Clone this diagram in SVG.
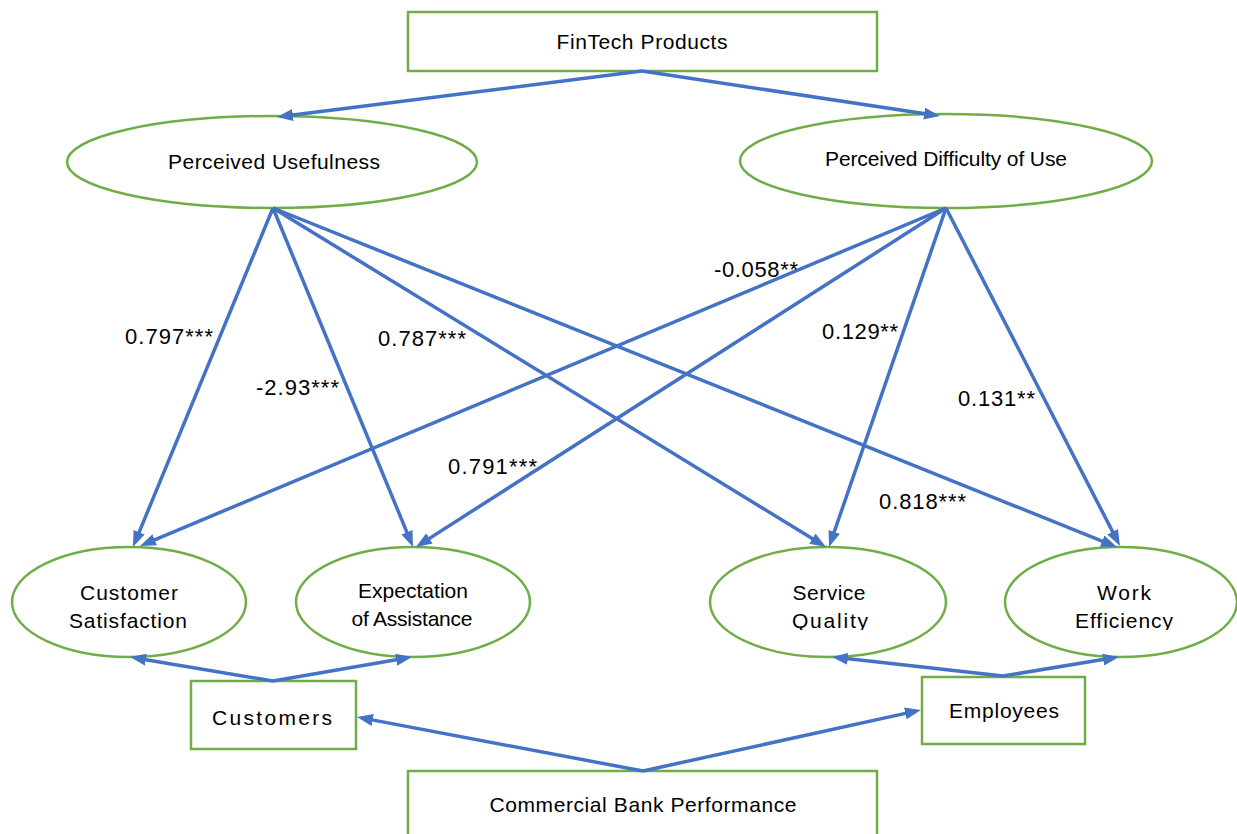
<svg xmlns="http://www.w3.org/2000/svg" width="1237" height="834" viewBox="0 0 1237 834">
<style>
.box{fill:#fff;stroke:#70AD47;stroke-width:2.5}
.ell{fill:#fff;stroke:#70AD47;stroke-width:2.5}
.t{font-family:"Liberation Sans",Arial,sans-serif;font-size:21px;fill:#000;text-anchor:middle}
.lbl{font-family:"Liberation Sans",Arial,sans-serif;font-size:22px;fill:#000}
.c{stroke:#4472C4;stroke-width:3.5;fill:none;marker-end:url(#ah)}
</style>
<defs>
<marker id="ah" markerUnits="userSpaceOnUse" markerWidth="16" markerHeight="12" refX="6" refY="6" orient="auto">
<path d="M0,0 L16,6 L0,12 z" fill="#4472C4"/>
</marker>
<clipPath id="clipL"><rect x="0" y="0" width="1237" height="630"/></clipPath>
</defs>
<rect width="1237" height="834" fill="#fff"/>

<g id="fintech">
<rect class="box" x="408" y="12" width="469" height="59"/>
<text class="t" x="642" y="49" textLength="171" lengthAdjust="spacing">FinTech Products</text>
</g>
<g id="pu">
<ellipse class="ell" cx="272" cy="162" rx="205" ry="46"/>
<text class="t" x="274" y="169" textLength="212" lengthAdjust="spacing">Perceived Usefulness</text>
</g>
<g id="pdu">
<ellipse class="ell" cx="946" cy="161" rx="206" ry="47"/>
<text class="t" x="946" y="166" textLength="242" lengthAdjust="spacing">Perceived Difficulty of Use</text>
</g>
<g id="cs">
<ellipse class="ell" cx="129" cy="602" rx="117" ry="55"/>
<text class="t" x="129" y="600" textLength="98" lengthAdjust="spacing">Customer</text>
<text class="t" x="128" y="628" textLength="118" lengthAdjust="spacing">Satisfaction</text>
</g>
<g id="ea">
<ellipse class="ell" cx="413" cy="602" rx="117" ry="55"/>
<text class="t" x="413" y="598" textLength="110" lengthAdjust="spacing">Expectation</text>
<text class="t" x="412" y="626" textLength="121" lengthAdjust="spacing">of Assistance</text>
</g>
<g id="sq">
<ellipse class="ell" cx="828" cy="602" rx="118" ry="55"/>
<text class="t" x="829" y="600" textLength="73" lengthAdjust="spacing">Service</text>
<text class="t" x="830" y="628" textLength="76" lengthAdjust="spacing" clip-path="url(#clipL)">Quality</text>
</g>
<g id="we">
<ellipse class="ell" cx="1121" cy="602" rx="116" ry="55"/>
<text class="t" x="1124" y="600" textLength="54" lengthAdjust="spacing">Work</text>
<text class="t" x="1124" y="628" textLength="98" lengthAdjust="spacing" clip-path="url(#clipL)">Efficiency</text>
</g>
<g id="customers">
<rect class="box" x="191" y="681" width="165" height="68"/>
<text class="t" x="272" y="725" font-size="24" textLength="120" lengthAdjust="spacing">Customers</text>
</g>
<g id="employees">
<rect class="box" x="922" y="677" width="163" height="67"/>
<text class="t" x="1004" y="718" textLength="110" lengthAdjust="spacing">Employees</text>
</g>
<g id="cbp">
<rect class="box" x="408" y="771" width="469" height="70"/>
<text class="t" x="643" y="812" textLength="307" lengthAdjust="spacing">Commercial Bank Performance</text>
</g>

<g id="connectors">
<line class="c" x1="642" y1="71" x2="286.9" y2="115.8"/>
<line class="c" x1="642" y1="71" x2="930.1" y2="114.5"/>
<line class="c" x1="273" y1="208" x2="136.8" y2="537.8"/>
<line class="c" x1="273" y1="208" x2="409.2" y2="537.8"/>
<line class="c" x1="273" y1="208" x2="817.5" y2="541.8"/>
<line class="c" x1="273" y1="208" x2="1107.7" y2="543.3"/>
<line class="c" x1="946" y1="208" x2="149.2" y2="542.1"/>
<line class="c" x1="946" y1="208" x2="424.4" y2="541.6"/>
<line class="c" x1="946" y1="208" x2="832.3" y2="537.5"/>
<line class="c" x1="946" y1="208" x2="1115.4" y2="537.1"/>
<line class="c" x1="273" y1="681" x2="139.9" y2="658.7"/>
<line class="c" x1="273" y1="681" x2="402.1" y2="658.7"/>
<line class="c" x1="1003" y1="676" x2="841.9" y2="658.1"/>
<line class="c" x1="1003" y1="676" x2="1109.1" y2="658.6"/>
<line class="c" x1="643" y1="771" x2="366.8" y2="718.9"/>
<line class="c" x1="643" y1="771" x2="911.2" y2="712.1"/>
</g>

<g id="labels">
<text class="lbl" x="125" y="344" textLength="88" lengthAdjust="spacing">0.797***</text>
<text class="lbl" x="256" y="395" textLength="83" lengthAdjust="spacing">-2.93***</text>
<text class="lbl" x="378" y="346" textLength="88" lengthAdjust="spacing">0.787***</text>
<text class="lbl" x="714" y="277" textLength="84" lengthAdjust="spacing">-0.058**</text>
<text class="lbl" x="822" y="339" textLength="76" lengthAdjust="spacing">0.129**</text>
<text class="lbl" x="958" y="406" textLength="77" lengthAdjust="spacing">0.131**</text>
<text class="lbl" x="448" y="474" textLength="89" lengthAdjust="spacing">0.791***</text>
<text class="lbl" x="879" y="509" textLength="87" lengthAdjust="spacing">0.818***</text>
</g>
</svg>
